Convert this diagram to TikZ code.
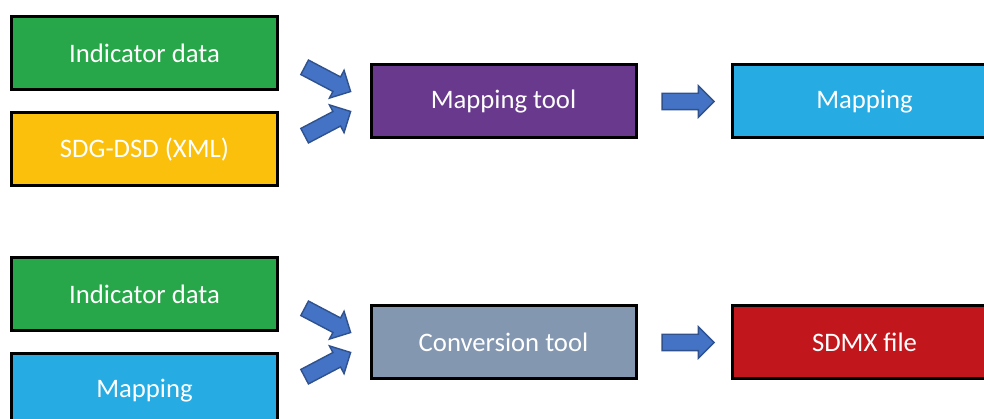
\documentclass[tikz,border=0pt]{standalone}
\usepackage{fontspec}
\setmainfont{Carlito}
\usetikzlibrary{calc}
\usetikzlibrary{positioning}
\usetikzlibrary{shapes.arrows}
\definecolor{indgreen}{RGB}{40,167,74}
\definecolor{dsdyellow}{RGB}{251,192,12}
\definecolor{toolpurple}{RGB}{104,57,140}
\definecolor{mapblue}{RGB}{38,171,227}
\definecolor{convgray}{RGB}{132,151,176}
\definecolor{sdmxred}{RGB}{193,22,27}
\definecolor{arrowfill}{RGB}{68,114,196}
\definecolor{arrowline}{RGB}{47,82,143}

\begin{document}
\begin{tikzpicture}[
    databox/.style={draw=black, line width=0.06cm, minimum width=5.3cm, minimum height=1.46cm,
        text=white, font=\fontsize{15.2}{18}\selectfont, inner sep=0pt},
    blockarrow/.style={single arrow, draw=arrowline, fill=arrowfill, line width=0.8pt,
        minimum height=1.04cm, inner xsep=0pt, inner ysep=0.15cm, single arrow head extend=0.15cm,
        single arrow head indent=0pt}]
    \useasboundingbox (0,0) rectangle (19.68,-8.38);
    \node[databox, fill=indgreen] (ind1) at (2.89,-1.07) {Indicator data};
    \node[databox, fill=dsdyellow, below=0.4cm of ind1] (dsd) {SDG-DSD (XML)};
    \node[databox, fill=toolpurple, right=1.82cm of $(ind1.east)!0.5!(dsd.east)$] (mtool) {Mapping tool};
    \node[databox, fill=mapblue, right=1.86cm of mtool] (map1) {Mapping};
    \path (ind1.east) -- (mtool.west) node[midway, sloped, blockarrow] (a1) {};
    \path (dsd.east) -- (mtool.west) node[midway, sloped, blockarrow] (a2) {};
    \path (mtool.east) -- (map1.west) node[midway, blockarrow] (a3) {};

    \node[databox, fill=indgreen] (ind2) at (2.89,-5.89) {Indicator data};
    \node[databox, fill=mapblue, below=0.4cm of ind2] (map2) {Mapping};
    \node[databox, fill=convgray, right=1.82cm of $(ind2.east)!0.5!(map2.east)$] (ctool) {Conversion tool};
    \node[databox, fill=sdmxred, right=1.86cm of ctool] (sdmx) {SDMX file};
    \path (ind2.east) -- (ctool.west) node[midway, sloped, blockarrow] (b1) {};
    \path (map2.east) -- (ctool.west) node[midway, sloped, blockarrow] (b2) {};
    \path (ctool.east) -- (sdmx.west) node[midway, blockarrow] (b3) {};
\end{tikzpicture}
\end{document}
